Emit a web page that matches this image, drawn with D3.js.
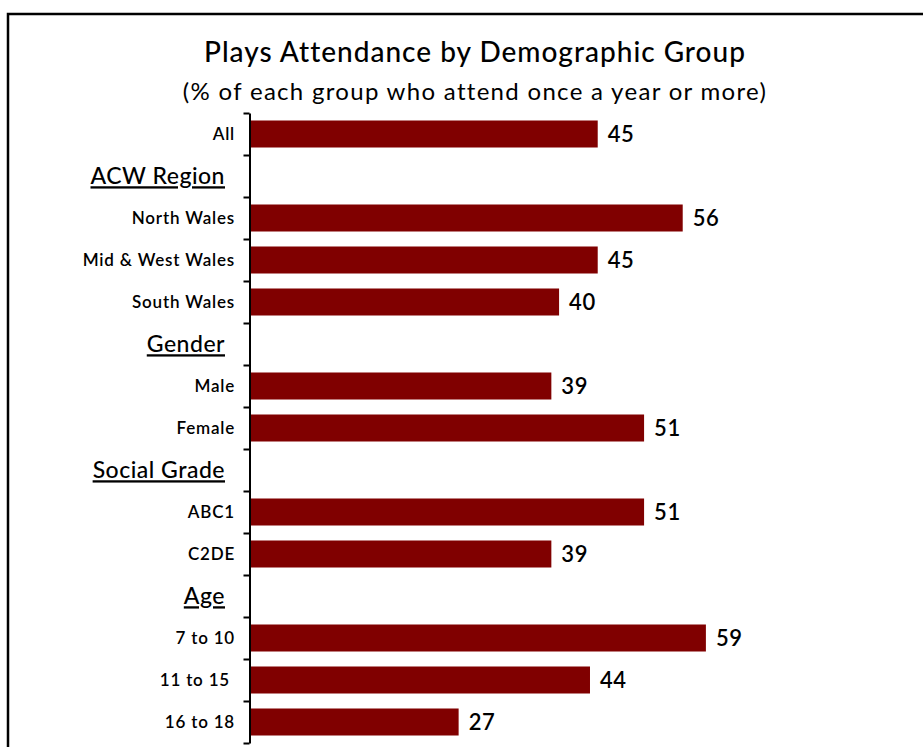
<!DOCTYPE html>
<html>
<head>
<meta charset="utf-8">
<script src="https://cdn.jsdelivr.net/npm/d3@7"></script>
<style>
  html, body { margin: 0; padding: 0; background: #fff; }
  svg { display: block; font-family: "Lato", "Open Sans", sans-serif; }
</style>
</head>
<body>
<svg id="chart" width="923" height="747"></svg>
<script>
// Rows of the chart, top to bottom; section headings carry no value
const categories = ["All", "ACW Region", "North Wales", "Mid & West Wales", "South Wales",
  "Gender", "Male", "Female", "Social Grade", "ABC1", "C2DE",
  "Age", "7 to 10", "11 to 15 ", "16 to 18"];
const headings = ["ACW Region", "Gender", "Social Grade", "Age"];
const values = [45, null, 56, 45, 40, null, 39, 51, null, 51, 39, null, 59, 44, 27];

const titleText = "Plays Attendance by Demographic Group";
const subtitleText = "(% of each group who attend once a year or more)";

const rows = categories.map((c, i) => ({ key: i, label: c, value: values[i], heading: headings.includes(c) }));

const svg = d3.select("#chart");

// Outer frame
svg.append("rect")
  .attr("x", 8).attr("y", 14)
  .attr("width", 1000).attr("height", 1000)
  .attr("fill", "none").attr("stroke", "#000").attr("stroke-width", 2.5);

const plotTop = 113, plotBottom = 743, axisX = 250;

const x = d3.scaleLinear().domain([0, 100]).range([axisX, axisX + 772.7]);

const inner = 0.357;
const y = d3.scaleBand()
  .domain(rows.map(d => d.key))
  .range([plotTop, plotBottom])
  .paddingInner(inner)
  .paddingOuter(inner / 2);

// Category separators on the vertical axis
const yEdge = d3.scaleLinear().domain([0, rows.length]).range([plotTop, plotBottom]);
const axis = d3.axisLeft(yEdge)
  .tickValues(d3.range(rows.length + 1))
  .tickFormat("")
  .tickSize(6)
  .tickSizeOuter(0);

// Bars
svg.append("g").selectAll("rect")
  .data(rows.filter(d => d.value != null))
  .join("rect")
  .attr("x", x(0))
  .attr("y", d => y(d.key))
  .attr("width", d => x(d.value) - x(0))
  .attr("height", y.bandwidth())
  .attr("fill", "#800000");

const axisG = svg.append("g")
  .attr("transform", `translate(${axisX - 0.5},0)`)
  .call(axis);
axisG.select(".domain").attr("stroke", "#000").attr("stroke-width", 2);
axisG.selectAll(".tick line").attr("stroke", "#000").attr("stroke-width", 2);

// Value labels
svg.append("g").selectAll("text")
  .data(rows.filter(d => d.value != null))
  .join("text")
  .attr("x", d => x(d.value) + 10)
  .attr("y", d => y(d.key) + y.bandwidth() / 2)
  .attr("dy", "0.36em")
  .attr("font-size", 22)
  .attr("font-weight", 600)
  .attr("letter-spacing", 0.6)
  .attr("fill", "#000")
  .text(d => d.value);

// Category labels
svg.append("g").selectAll("text")
  .data(rows.filter(d => !d.heading))
  .join("text")
  .attr("x", 235)
  .attr("y", d => y(d.key) + y.bandwidth() / 2)
  .attr("dy", "0.36em")
  .attr("text-anchor", "end")
  .attr("font-size", 17)
  .attr("font-weight", 600)
  .attr("letter-spacing", 0.8)
  .attr("fill", "#000")
  .style("white-space", "pre")
  .text(d => d.label);

// Section headings, underlined
svg.append("g").selectAll("text")
  .data(rows.filter(d => d.heading))
  .join("text")
  .attr("x", 225)
  .attr("y", d => y(d.key) + y.bandwidth() / 2)
  .attr("dy", "0.36em")
  .attr("text-anchor", "end")
  .attr("font-size", 23)
  .attr("font-weight", 500)
  .attr("letter-spacing", 0.5)
  .attr("text-decoration", "underline")
  .attr("fill", "#000")
  .text(d => d.label);

// Title block
svg.append("text")
  .attr("x", 475).attr("y", 62)
  .attr("text-anchor", "middle")
  .attr("font-size", 28)
  .attr("font-weight", 500)
  .attr("letter-spacing", 1)
  .text(titleText);

svg.append("text")
  .attr("x", 475).attr("y", 100)
  .attr("text-anchor", "middle")
  .attr("font-size", 24)
  .attr("letter-spacing", 1.3)
  .text(subtitleText);
</script>
</body>
</html>
